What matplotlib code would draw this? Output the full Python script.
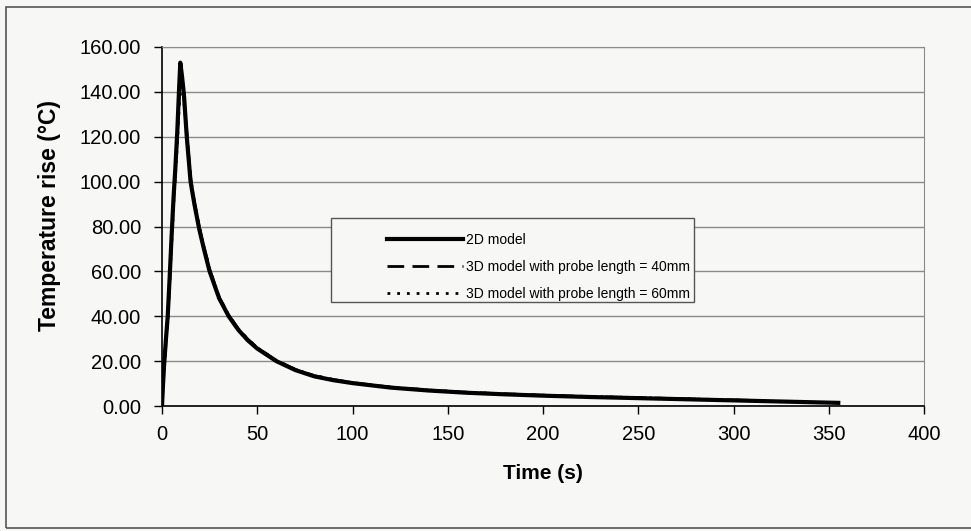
import matplotlib.pyplot as plt
from matplotlib.patches import Rectangle

plt.rcParams['font.family'] = ['Liberation Sans', 'DejaVu Sans']

# time (s) and temperature rise (degC) for each model
t_2d = [0, 0.5, 1, 2, 3, 4, 5, 6, 7, 8, 9, 9.6, 10.5, 11.5, 13, 15, 17, 19.5,
        22, 25, 30, 35, 40, 45, 50, 60, 70, 80, 90, 100, 120, 140, 160, 180,
        200, 225, 250, 275, 300, 325, 355]
temp_2d = [0, 9, 17, 29, 40, 57, 75, 92, 106, 122, 142, 153, 147, 139, 120,
           100, 90, 79, 70, 60, 48, 40, 34, 29.3, 25.6, 20, 16, 13.2, 11.5, 10.2,
           8.2, 6.9, 5.9, 5.2, 4.6, 4.0, 3.5, 3.0, 2.5, 2.0, 1.4]

t_3d40 = [0, 0.5, 1, 2, 3, 4, 5, 6, 7, 8, 9, 9.8, 10.8, 12, 13.5, 15, 17, 19.5,
          22, 25, 30, 35, 40, 45, 50, 60, 70, 80, 90, 100, 120, 140, 160, 180,
          200, 225, 250, 275, 300, 315]
temp_3d40 = [0, 8, 16, 28, 39, 55, 73, 90, 104, 119, 137, 147, 143, 133, 117,
             102, 91, 80, 71, 61, 48.5, 40.5, 34.5, 29.8, 26, 20.3, 16.3, 13.5,
             11.8, 10.4, 8.4, 7.1, 6.1, 5.4, 4.8, 4.2, 3.7, 3.2, 2.7, 2.4]

t_3d60 = [0, 0.5, 1, 2, 3, 4, 5, 6, 7, 8, 9, 10, 11, 12, 13.5, 15, 17, 19.5,
          22, 25, 30, 35, 40, 45, 50, 60, 70, 80, 90, 100, 120, 140, 160, 180,
          200, 225, 250, 275, 300, 315]
temp_3d60 = [0, 8, 15, 27, 38, 54, 71, 88, 102, 116, 133, 143, 140, 131, 116,
             101, 91, 80, 71, 61, 48.5, 40.5, 34.5, 29.8, 26, 20.3, 16.3, 13.5,
             11.8, 10.4, 8.4, 7.1, 6.1, 5.4, 4.8, 4.2, 3.7, 3.2, 2.7, 2.4]

x_ticks = [0, 50, 100, 150, 200, 250, 300, 350, 400]
y_ticks = [0, 20, 40, 60, 80, 100, 120, 140, 160]

bg = '#f7f8f5'
fig = plt.figure(figsize=(9.71, 5.31), dpi=100, facecolor=bg)
ax = fig.add_axes([162 / 971, 1 - 406 / 531, (924 - 162) / 971, (406 - 47) / 531])
ax.set_facecolor(bg)

# outer chart border
fig.patches.append(Rectangle((6 / 971, 3 / 531), 1.0, 1 - 10 / 531,
                             transform=fig.transFigure, fill=False,
                             edgecolor='#555555', linewidth=1.2))

ax.plot(t_3d60, temp_3d60, color='black', linestyle=(0, (1, 2.5)), linewidth=2,
        label='3D model with probe length = 60mm', zorder=3)
ax.plot(t_3d40, temp_3d40, color='black', linestyle=(0, (6, 3)), linewidth=2,
        label='3D model with probe length = 40mm', zorder=3)
ax.plot(t_2d, temp_2d, color='black', linewidth=3, label='2D model', zorder=4)

ax.set_xlim(0, 400)
ax.set_ylim(0, 160)
ax.set_xticks(x_ticks)
ax.set_yticks(y_ticks)
ax.set_yticklabels([f'{v:.2f}' for v in y_ticks])
ax.tick_params(axis='both', labelsize=14.5, direction='out', length=6,
               width=1, colors='black')
ax.tick_params(axis='y', pad=9)
ax.tick_params(axis='x', pad=8)

ax.grid(axis='y', color='#8a8a8a', linewidth=1)
ax.set_axisbelow(True)
for side in ['top', 'right']:
    ax.spines[side].set_color('#8a8a8a')
ax.spines['left'].set_color('black')
ax.spines['bottom'].set_color('black')
ax.spines['left'].set_linewidth(1.2)
ax.spines['bottom'].set_linewidth(1.2)

ax.set_xlabel('Time (s)', fontsize=15, fontweight='bold', labelpad=14)
ax.set_ylabel('Temperature rise (°C)', fontsize=16.5, fontweight='bold')
ax.yaxis.set_label_coords(-0.132, 0.53)

# legend box with the entries set to its right side
ax.add_patch(Rectangle(((331 - 162) / 762, (406 - 302) / 359), (694 - 331) / 762,
                       (302 - 218) / 359, transform=ax.transAxes,
                       facecolor=bg, edgecolor='#555555', linewidth=1, zorder=5))
legend_size = 10
handles, labels = ax.get_legend_handles_labels()
leg = ax.legend(handles[::-1], labels[::-1], loc='upper right',
                bbox_to_anchor=((690 - 162) / 762, (406 - 233) / 359),
                frameon=False, fontsize=legend_size,
                handlelength=76 / (legend_size * 100 / 72),
                handletextpad=0.2, labelspacing=0.93, borderpad=0,
                borderaxespad=0)
leg.set_zorder(6)

fig.savefig('out.png', dpi=100, facecolor=bg)
